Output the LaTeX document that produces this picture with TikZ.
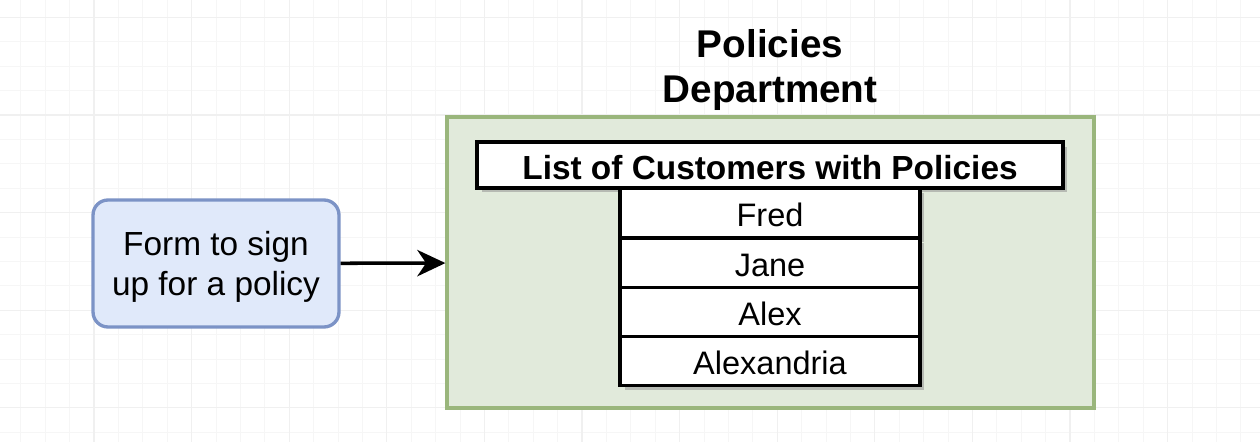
\documentclass[tikz,border=0pt]{standalone}
\usepackage{fontspec}
\setmainfont{Liberation Sans}
\usetikzlibrary{arrows.meta,shadows}
\definecolor{formfill}{HTML}{E0E9FA}
\definecolor{formline}{HTML}{7C93C6}
\definecolor{deptfill}{HTML}{E1EADB}
\definecolor{deptline}{HTML}{9AB67C}
\newcommand{\lowered}[2]{\raisebox{-#1}[\height][\depth]{#2}}
\tikzset{
  gridminor/.style={draw=black!3.5,line width=0.5pt},
  gridmajor/.style={draw=black!6,line width=0.6pt},
  formbox/.style={draw=formline,fill=formfill,line width=1.9pt,rounded corners=0.3cm,
    minimum width=4.92cm,minimum height=2.54cm,inner sep=0pt,
    font=\fontsize{19}{22.5}\selectfont},
  deptbox/.style={draw=deptline,fill=deptfill,line width=1.9pt,
    minimum width=12.94cm,minimum height=5.82cm,inner sep=0pt},
  headbox/.style={draw=black,fill=white,line width=2.2pt,minimum width=11.72cm,
    minimum height=0.92cm,inner sep=0pt,font=\bfseries\fontsize{19}{22}\selectfont,
    drop shadow={shadow xshift=0.09cm,shadow yshift=-0.09cm,fill=black!45,opacity=0.5}},
  rowbox/.style={draw=black,fill=white,line width=2.2pt,minimum width=6cm,
    minimum height=0.98cm,inner sep=0pt,font=\fontsize{18.5}{22}\selectfont,
    drop shadow={shadow xshift=0.09cm,shadow yshift=-0.09cm,fill=black!45,opacity=0.5}},
  arrowline/.style={line width=2pt,-{Stealth[length=16pt,width=15pt,inset=5pt]}}
}
\begin{document}
\begin{tikzpicture}[x=0.02cm,y=-0.02cm]
  \useasboundingbox[fill=white] (0,0) rectangle (1260,442);
  % grid
  \foreach \k in {-3,...,48} \draw[gridminor] (94+\k*24.4,0) -- (94+\k*24.4,442);
  \foreach \k in {-4,...,13} \draw[gridminor] (0,115+\k*24.4) -- (1260,115+\k*24.4);
  \foreach \k in {0,...,12} \draw[gridmajor] (94+\k*97.6-97.6,0) -- (94+\k*97.6-97.6,442);
  \foreach \k in {-1,...,3} \draw[gridmajor] (0,115+\k*97.6) -- (1260,115+\k*97.6);
  % boxes
  \node[formbox] (form) at (216,263.5) {\lowered{2.3pt}{\begin{tabular}{@{}c@{}}Form to sign\\up for a policy\end{tabular}}};
  \node[deptbox] (dept) at (770.5,262.5) {};
  \node[align=center,font=\bfseries\fontsize{22}{26}\selectfont] (title) at (770,70) {Policies\\Department};
  \node[headbox] (header) at (770,165) {\lowered{1.7pt}{List of Customers with Policies}};
  \node[rowbox] (fred) at (770,213) {\lowered{1.2pt}{Fred}};
  \node[rowbox] (jane) at (770,263) {\lowered{1.2pt}{Jane}};
  \node[rowbox] (alex) at (770,312) {\lowered{1.2pt}{Alex}};
  \node[rowbox] (alexandria) at (770,361) {\lowered{1.2pt}{Alexandria}};
  \draw[arrowline] (form) -- (dept);
\end{tikzpicture}
\end{document}
